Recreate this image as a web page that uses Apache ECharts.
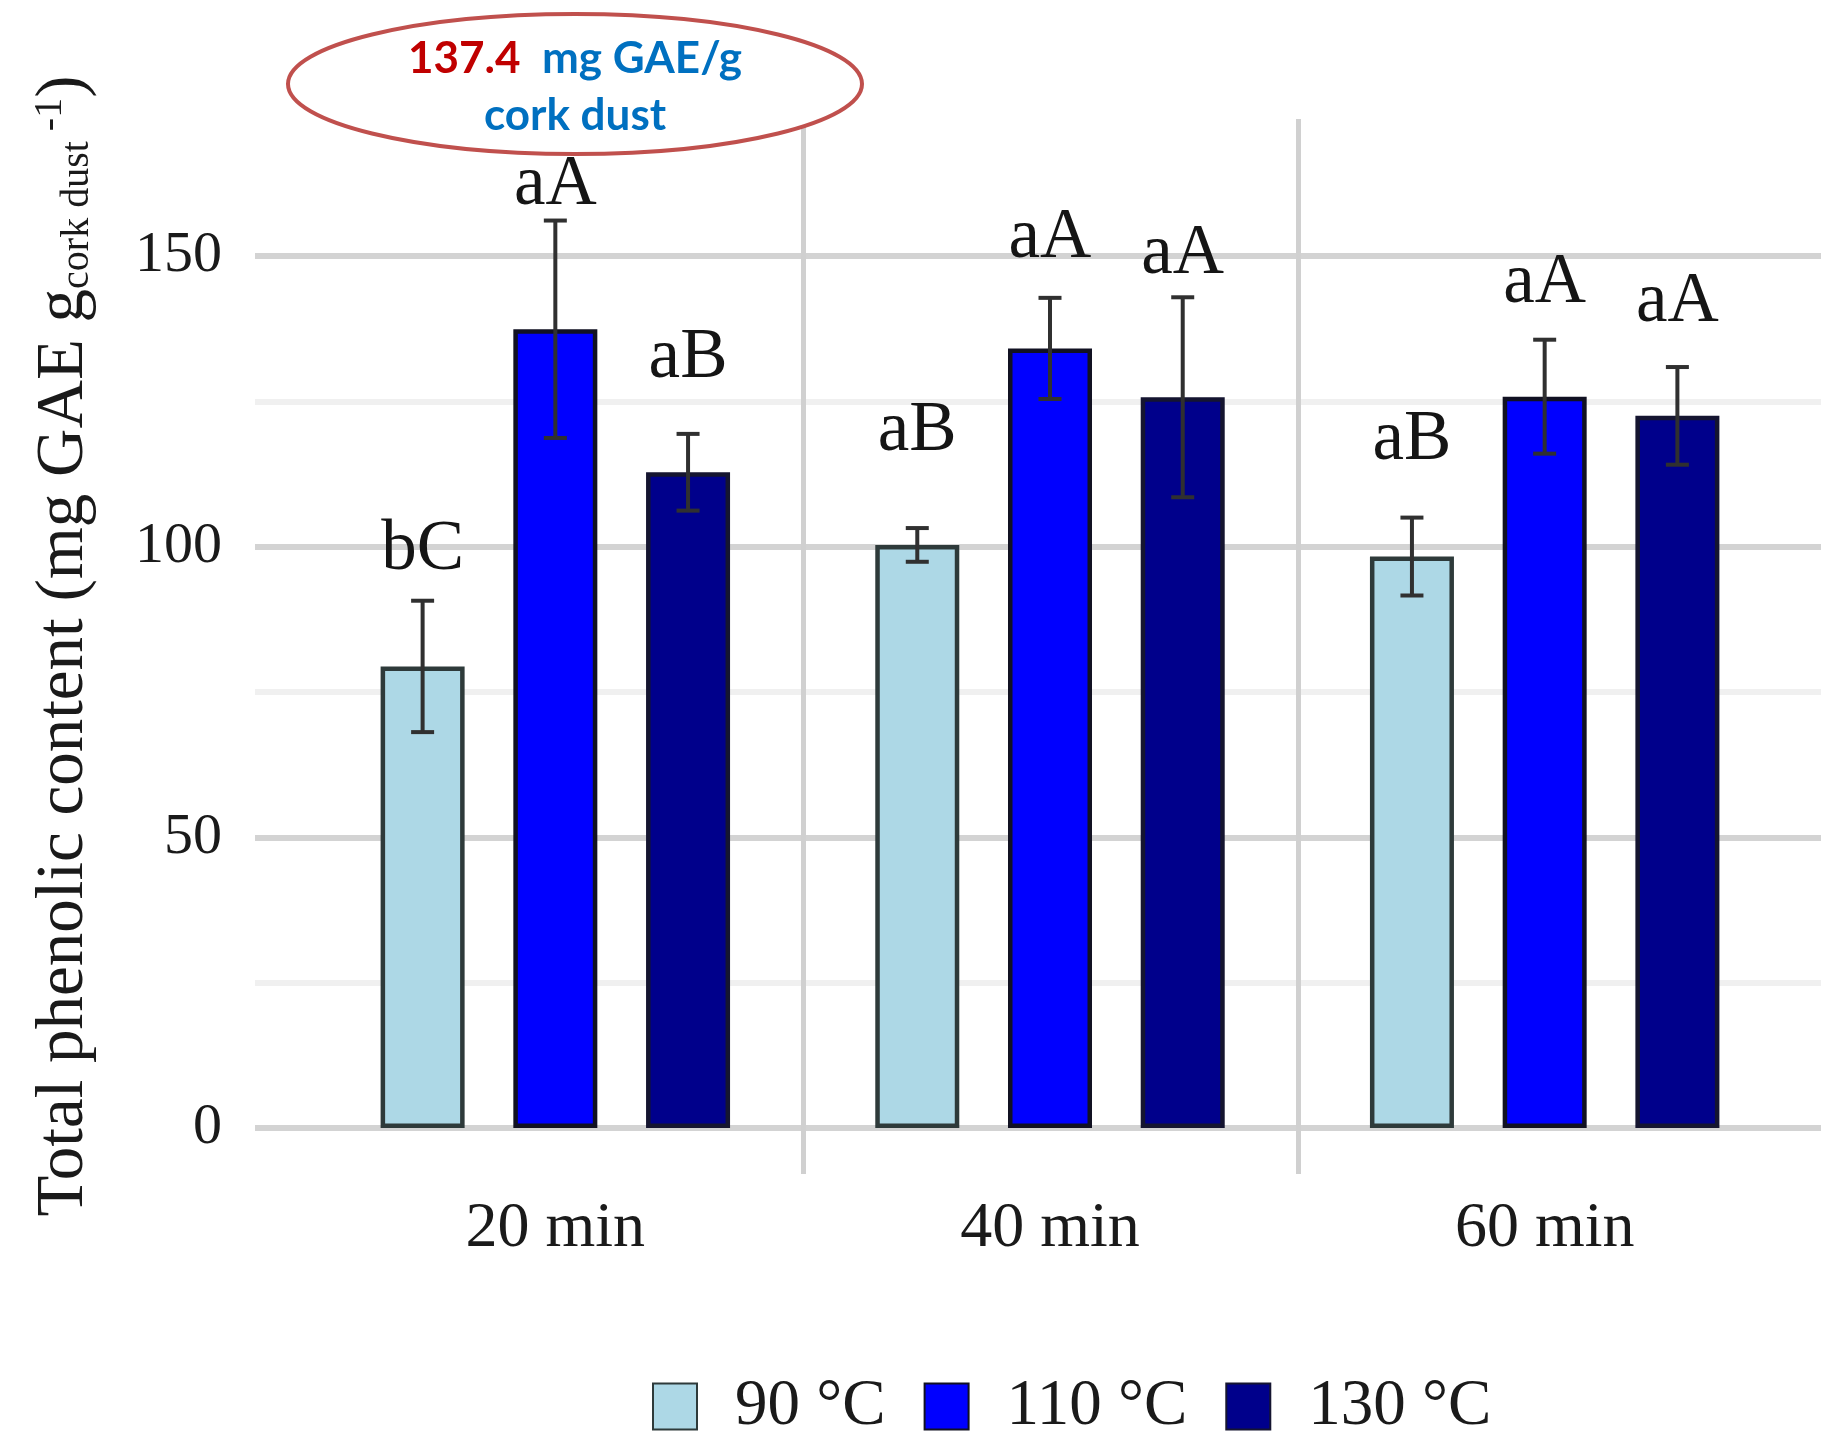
<!DOCTYPE html>
<html>
<head>
<meta charset="utf-8">
<script src="https://cdn.jsdelivr.net/npm/echarts@6/dist/echarts.min.js"></script>
<style>
html,body{margin:0;padding:0;background:#fff;}
#chart{width:1821px;height:1437px;}
</style>
</head>
<body>
<div id="chart"></div>
<script>
// ---- data ----
const categories = ['20 min', '40 min', '60 min'];
const seriesNames = ['90 °C', '110 °C', '130 °C'];
const values90 = [79.4, 100.3, 98.3];
const values110 = [137.4, 134.1, 125.8];
const values130 = [112.8, 125.7, 122.5];
const err90 = [11.3, 2.9, 6.7];
const err110 = [18.7, 8.7, 9.8];
const err130 = [6.6, 17.2, 8.4];
const letters90 = ['bC', 'aB', 'aB'];
const letters110 = ['aA', 'aA', 'aA'];
const letters130 = ['aB', 'aA', 'aA'];
// height (in data units) at which each significance letter sits
const letterY90 = [99.3, 119.9, 118.3];
const letterY110 = [162.1, 153.1, 145.3];
const letterY130 = [132.4, 150.3, 142.0];
const yTicks = [0, 50, 100, 150];

const values = [values90, values110, values130];
const errs = [err90, err110, err130];
const letters = [letters90, letters110, letters130];
const letterYs = [letterY90, letterY110, letterY130];
const fills = ['#add8e6', '#0000ff', '#00008b'];
const borders = ['#2e3a3a', '#111122', '#151530'];

const SERIF = '"Liberation Serif", "Times New Roman", serif';
const BAR_W = 84;
const BAR_GAP = 0.58;

const chart = echarts.init(document.getElementById('chart'), null, {renderer: 'canvas'});

const series = [];
values.forEach((vals, i) => {
  series.push({
    type: 'bar',
    name: seriesNames[i],
    xAxisIndex: 1, yAxisIndex: 1,
    data: vals,
    barWidth: BAR_W,
    barGap: (BAR_GAP * 100) + '%',
    itemStyle: {color: fills[i], borderColor: borders[i], borderWidth: 4.5},
    emphasis: {disabled: true},
    z: 3
  });
});
values.forEach((vals, i) => {
  const offset = (i - 1) * BAR_W * (1 + BAR_GAP);
  series.push({
    type: 'custom',
    xAxisIndex: 1, yAxisIndex: 1,
    z: 6,
    silent: true,
    data: vals.map((v, k) => [k, v, errs[i][k], letterYs[i][k]]),
    renderItem: function (params, api) {
      const ci = api.value(0), v = api.value(1), e = api.value(2), ly = api.value(3);
      const x = api.coord([ci, v])[0] + offset;
      const yt = api.coord([ci, v + e])[1];
      const yb = api.coord([ci, v - e])[1];
      const yl = api.coord([ci, ly])[1];
      const cap = 11.5;
      const ls = {stroke: '#303030', lineWidth: 4};
      return {
        type: 'group',
        children: [
          {type: 'line', shape: {x1: x, y1: yt, x2: x, y2: yb}, style: ls},
          {type: 'line', shape: {x1: x - cap, y1: yt, x2: x + cap, y2: yt}, style: ls},
          {type: 'line', shape: {x1: x - cap, y1: yb, x2: x + cap, y2: yb}, style: ls},
          {type: 'text', style: {
            x: x, y: yl, text: letters[i][params.dataIndex],
            align: 'center', verticalAlign: 'middle',
            fontFamily: SERIF, fontSize: 71, fill: '#151515'
          }}
        ]
      };
    }
  });
});

const option = {
  backgroundColor: '#ffffff',
  animation: false,
  grid: [
    {left: 255, right: 0, top: 256, bottom: 309},
    {left: 308, right: 29, top: 256, bottom: 309},
    {left: 803, width: 495, top: 119, bottom: 263}
  ],
  xAxis: [
    {gridIndex: 0, type: 'value', show: false},
    {gridIndex: 1, type: 'category', data: categories,
      axisLine: {show: false}, axisTick: {show: false}, splitLine: {show: false},
      axisLabel: {margin: 69, fontFamily: SERIF, fontSize: 64, color: '#1a1a1a'}},
    {gridIndex: 2, type: 'value', min: 0, max: 1, interval: 1,
      axisLine: {show: false}, axisTick: {show: false}, axisLabel: {show: false},
      splitLine: {show: true, lineStyle: {color: '#d0d0d0', width: 5}}}
  ],
  yAxis: [
    {gridIndex: 0, type: 'value', min: yTicks[0], max: yTicks[yTicks.length - 1], interval: yTicks[1] - yTicks[0],
      axisLine: {show: false}, axisTick: {show: false},
      axisLabel: {margin: 33, fontFamily: SERIF, fontSize: 58, color: '#1a1a1a'},
      splitLine: {show: true, lineStyle: {color: '#d3d3d3', width: 6}},
      minorTick: {show: false, splitNumber: 2},
      minorSplitLine: {show: true, lineStyle: {color: '#f0f0f0', width: 6}}},
    {gridIndex: 1, type: 'value', min: yTicks[0], max: yTicks[yTicks.length - 1], show: false},
    {gridIndex: 2, type: 'value', show: false}
  ],
  legend: {
    data: seriesNames,
    left: 652, top: 1374, padding: 0,
    icon: 'rect', itemWidth: 44, itemHeight: 46, itemGap: 38,
    formatter: name => '{s|}' + name,
    textStyle: {fontFamily: SERIF, fontSize: 65, color: '#1a1a1a', rich: {s: {width: 33}}},
    selectedMode: false
  },
  graphic: [
    {type: 'text', x: 64, y: 646, rotation: Math.PI / 2, z: 10,
      style: {
        text: '{m|Total phenolic content (mg GAE g}{s|cork dust}{p| -1}{m|)}',
        align: 'center', verticalAlign: 'middle', fill: '#1a1a1a',
        rich: {
          m: {fontFamily: SERIF, fontSize: 67, lineHeight: 67, fill: '#1a1a1a'},
          s: {fontFamily: SERIF, fontSize: 40, lineHeight: 31, verticalAlign: 'bottom', fill: '#1a1a1a'},
          p: {fontFamily: SERIF, fontSize: 40, lineHeight: 37, verticalAlign: 'top', fill: '#1a1a1a'}
        }
      }},
    {type: 'ellipse', z: 20, shape: {cx: 575, cy: 84, rx: 287, ry: 70},
      style: {fill: '#ffffff', stroke: '#c0504d', lineWidth: 4}},
    {type: 'text', x: 575, y: 87, z: 21,
      style: {
        text: '{r|' + values110[0].toFixed(1) + '}{b|  mg GAE/g}\n{b|cork dust}',
        align: 'center', verticalAlign: 'middle',
        rich: {
          r: {fontFamily: 'Lato, "Open Sans", sans-serif', fontWeight: 'bold', fontSize: 44, lineHeight: 57, fill: '#c00000'},
          b: {fontFamily: 'Lato, "Open Sans", sans-serif', fontWeight: 'bold', fontSize: 44, lineHeight: 57, fill: '#0070c0'}
        }
      }}
  ],
  series: series
};
chart.setOption(option);
</script>
</body>
</html>
